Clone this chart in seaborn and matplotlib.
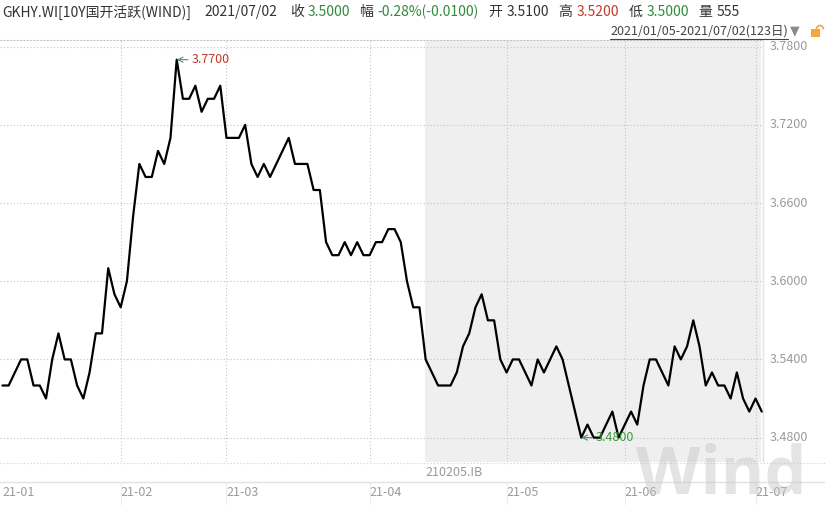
import numpy as np
import pandas as pd
import matplotlib
matplotlib.use("Agg")
import matplotlib.pyplot as plt
import matplotlib.transforms as mtransforms
from matplotlib.patches import Rectangle, Arc
from matplotlib.lines import Line2D
import seaborn as sns

# ---------------- data ----------------
values = [
    3.52, 3.52, 3.53, 3.54, 3.54, 3.52, 3.52, 3.51, 3.54, 3.56, 3.54, 3.54, 3.52, 3.51, 3.53, 3.56, 3.56, 3.61, 3.59, 3.58, 3.60,
    3.65, 3.69, 3.68, 3.68, 3.70, 3.69, 3.71, 3.77, 3.74, 3.74, 3.75, 3.73, 3.74, 3.74, 3.75, 3.71, 3.71, 3.71, 3.72, 3.69,
    3.68, 3.69, 3.68, 3.69, 3.70, 3.71, 3.69, 3.69, 3.69, 3.67, 3.67, 3.63, 3.62, 3.62, 3.63, 3.62, 3.63, 3.62, 3.62, 3.63,
    3.63, 3.64, 3.64, 3.63, 3.60, 3.58, 3.58, 3.54, 3.53, 3.52, 3.52, 3.52, 3.53, 3.55, 3.56, 3.58, 3.59, 3.57, 3.57, 3.54,
    3.53, 3.54, 3.54, 3.53, 3.52, 3.54, 3.53, 3.54, 3.55, 3.54, 3.52, 3.50, 3.48, 3.49, 3.48, 3.48, 3.49, 3.50, 3.48, 3.49,
    3.50, 3.49, 3.52, 3.54, 3.54, 3.53, 3.52, 3.55, 3.54, 3.55, 3.57, 3.55, 3.52, 3.53, 3.52, 3.52, 3.51, 3.53, 3.51, 3.50, 3.51, 3.50,
]
month_tick_idx = [0, 19, 36, 59, 81, 100, 121]
month_labels = ["21-01", "21-02", "21-03", "21-04", "21-05", "21-06", "21-07"]
grid_month_idx = [19, 36, 59, 81, 100, 121]
y_ticks = [3.48, 3.54, 3.60, 3.66, 3.72, 3.78]
switch_idx = 68
switch_label = "210205.IB"

header_title = "GKHY.WI[10Y国开活跃(WIND)]"
header_date = "2021/07/02"
header_close = "3.5000"
header_change = "-0.28%(-0.0100)"
header_open = "3.5100"
header_high = "3.5200"
header_low = "3.5000"
header_vol = "555"
range_label = "2021/01/05-2021/07/02(123日)"

# ---------------- style ----------------
sns.set_theme(style="white")
plt.rcParams["font.family"] = ["Noto Sans CJK SC", "DejaVu Sans"]

W, H = 825, 505
fig = plt.figure(figsize=(W / 100, H / 100), dpi=100)
fig.patch.set_facecolor("white")


def fx(px):
    return px / W


def fy(py):
    return 1 - py / H


TOP, BOT, RIGHT = 40, 462, 763
ax = fig.add_axes([0, fy(BOT), fx(RIGHT), (BOT - TOP) / H])
ax.set_facecolor("white")

df = pd.DataFrame({"i": np.arange(len(values)), "y": values})
n = len(values)

ax.axvspan(switch_idx - 0.12, n - 1 - 0.1, color="#efefef", lw=0, zorder=0)

sns.lineplot(data=df, x="i", y="y", ax=ax, color="black", lw=1.6, zorder=5)

ax.set_xlim(-0.39, n - 1 + 0.2)
ax.set_ylim(3.4613, 3.7851)

grid_kw = dict(color="#c4c4c4", lw=0.8, linestyle=(0, (1, 2)), zorder=1)
for v in y_ticks:
    ax.axhline(v, **grid_kw)
ax.vlines(grid_month_idx, 3.4613, 3.7851, **grid_kw)

# axes
ax.yaxis.tick_right()
ax.set_yticks(y_ticks)
ax.set_yticklabels([f"{v:.4f}" for v in y_ticks])
ax.tick_params(axis="y", length=0, pad=5, labelsize=9, labelcolor="#9a9a9a")
for lab in ax.get_yticklabels():
    lab.set_va("center")
ax.set_xticks(month_tick_idx)
ax.set_xticklabels(month_labels)
ax.tick_params(axis="x", length=0, pad=17, labelsize=9, labelcolor="#9a9a9a")
for lab in ax.get_xticklabels():
    lab.set_ha("left")
ax.set_xlabel("")
ax.set_ylabel("")
for s in ["left", "bottom"]:
    ax.spines[s].set_visible(False)
ax.spines["top"].set_color("#c4c4c4")
ax.spines["top"].set_linestyle((0, (1, 2)))
ax.spines["top"].set_linewidth(0.8)
ax.spines["right"].set_color("#e4e4e4")
ax.spines["right"].set_linewidth(1.0)

# bottom separators
fig.add_artist(Line2D([0, 1], [fy(462.5), fy(462.5)], color="#cfcfcf", lw=0.8, linestyle=(0, (1, 2))))
fig.add_artist(Line2D([0, 1], [fy(482), fy(482)], color="#e2e2e2", lw=1.0))
blend = mtransforms.blended_transform_factory(ax.transData, fig.transFigure)
for m in grid_month_idx:
    ax.add_line(Line2D([m, m], [fy(482), fy(505)], transform=blend, color="#ececec", lw=0.8,
                       clip_on=False))
ax.text(switch_idx - 0.1, fy(473), switch_label, transform=blend, ha="left", va="center",
        fontsize=9, color="#9a9a9a")

# max / min annotations
imax = int(np.argmax(values))
imin = int(np.argmin(values))
ax.annotate(f"{values[imax]:.4f}", xy=(imax, values[imax]), xytext=(10.5, 0), textcoords="offset points",
            ha="left", va="center", fontsize=9, color="#c0392b",
            arrowprops=dict(arrowstyle="->", color="#4f8a8a", lw=0.8, shrinkA=0, shrinkB=0), zorder=6)
ax.annotate(f"{values[imin]:.4f}", xy=(imin, values[imin]), xytext=(10.5, 0), textcoords="offset points",
            ha="left", va="center", fontsize=9, color="#3a9a3a",
            arrowprops=dict(arrowstyle="->", color="#4f8a8a", lw=0.8, shrinkA=0, shrinkB=0), zorder=6)

# header
DARK = "#333333"
GREEN = "#2e8b3a"
RED = "#c0392b"
hdr = [
    (2, header_title, DARK), (204, header_date, DARK),
    (290, "收", DARK), (308, header_close, GREEN),
    (359, "幅", DARK), (377, header_change, GREEN),
    (488, "开", DARK), (507, header_open, DARK),
    (558, "高", DARK), (577, header_high, RED),
    (629, "低", DARK), (647, header_low, GREEN),
    (698, "量", DARK), (717, header_vol, DARK),
]
for x, t, c in hdr:
    fig.text(fx(x), fy(12), t, ha="left", va="center", fontsize=10, color=c)

rt = fig.text(fx(788), fy(31), range_label, ha="right", va="center", fontsize=9, color="#444444")
fig.canvas.draw()
bb = rt.get_window_extent()
fig.add_artist(Line2D([bb.x0 / W, bb.x1 / W], [fy(38.5), fy(38.5)], color="#444444", lw=0.8))
fig.text(fx(790), fy(31), "▼", ha="left", va="center", fontsize=9, color="#8a8a8a",
         family=["DejaVu Sans"])
fig.add_artist(Rectangle((fx(811), fy(37)), fx(9), 8 / H, color="#f2a83b", lw=0))
fig.add_artist(Arc((fx(820), fy(29.5)), 7 / W, 8 / H, theta1=0, theta2=180, color="#f2a83b", lw=1.2))

# watermark
fig.text(fx(721), fy(494), "Wind", ha="center", va="baseline", fontsize=48, color="#c4c4c4",
         alpha=0.45, family=["Open Sans"], fontweight="bold")

fig.savefig("out.png", dpi=100)
